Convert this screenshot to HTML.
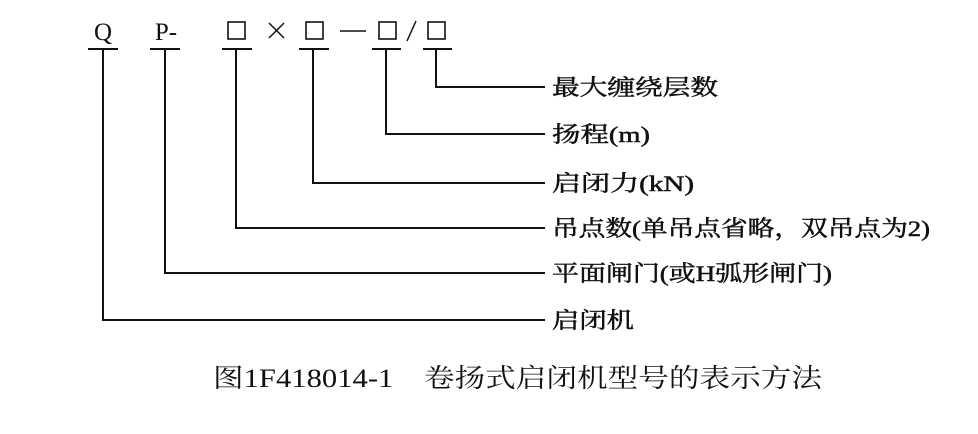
<!DOCTYPE html>
<html><head><meta charset="utf-8"><style>
html,body{margin:0;padding:0;background:#fff;}
svg text{font-family:"Liberation Serif","Noto Serif CJK SC",serif;fill:#111;}
</style></head><body>
<svg width="978" height="429" viewBox="0 0 978 429" xmlns="http://www.w3.org/2000/svg">
<g stroke="#111" stroke-width="2" fill="none">
<line x1="88" y1="49" x2="118" y2="49"/>
<line x1="150" y1="49" x2="180" y2="49"/>
<line x1="222" y1="49" x2="252" y2="49"/>
<line x1="299" y1="49" x2="329" y2="49"/>
<line x1="372" y1="49" x2="401" y2="49"/>
<line x1="423" y1="49" x2="452" y2="49"/>
<polyline points="436,49 436,87 545,87"/>
<polyline points="386,49 386,134 545,134"/>
<polyline points="313,49 313,183 545,183"/>
<polyline points="236,49 236,228 545,228"/>
<polyline points="165,49 165,273 545,273"/>
<polyline points="103,49 103,320 545,320"/>
<rect x="228" y="22" width="17" height="17" stroke-width="1.6"/>
<rect x="306" y="22" width="17" height="17" stroke-width="1.6"/>
<rect x="379" y="22" width="17" height="17" stroke-width="1.6"/>
<rect x="428" y="22" width="17" height="17" stroke-width="1.6"/>
<line x1="340" y1="31" x2="366" y2="31" stroke-width="1.5"/>
<line x1="407" y1="41" x2="416" y2="21" stroke-width="1.5"/>
<line x1="269" y1="23" x2="284" y2="38" stroke-width="1.5"/>
<line x1="284" y1="23" x2="269" y2="38" stroke-width="1.5"/>
</g>
<text x="103" y="40" font-size="25" text-anchor="middle">Q</text>
<text x="166" y="40" font-size="25" text-anchor="middle">P-</text>
<g font-size="22" stroke="#111" stroke-width="0.5" lengthAdjust="spacingAndGlyphs">
<text x="552" y="95" textLength="166" lengthAdjust="spacingAndGlyphs">最大缠绕层数</text>
<text x="552" y="142" textLength="98" lengthAdjust="spacingAndGlyphs">扬程(m)</text>
<text x="552" y="191" textLength="142" lengthAdjust="spacingAndGlyphs">启闭力(kN)</text>
<text x="552" y="236" textLength="378" lengthAdjust="spacingAndGlyphs">吊点数(单吊点省略，双吊点为2)</text>
<text x="552" y="281" textLength="280" lengthAdjust="spacingAndGlyphs">平面闸门(或H弧形闸门)</text>
<text x="552" y="328" textLength="82" lengthAdjust="spacingAndGlyphs">启闭机</text>
</g>
<text x="213" y="387" font-size="26" textLength="609" lengthAdjust="spacingAndGlyphs">图1F418014-1　卷扬式启闭机型号的表示方法</text>
</svg>
</body></html>
